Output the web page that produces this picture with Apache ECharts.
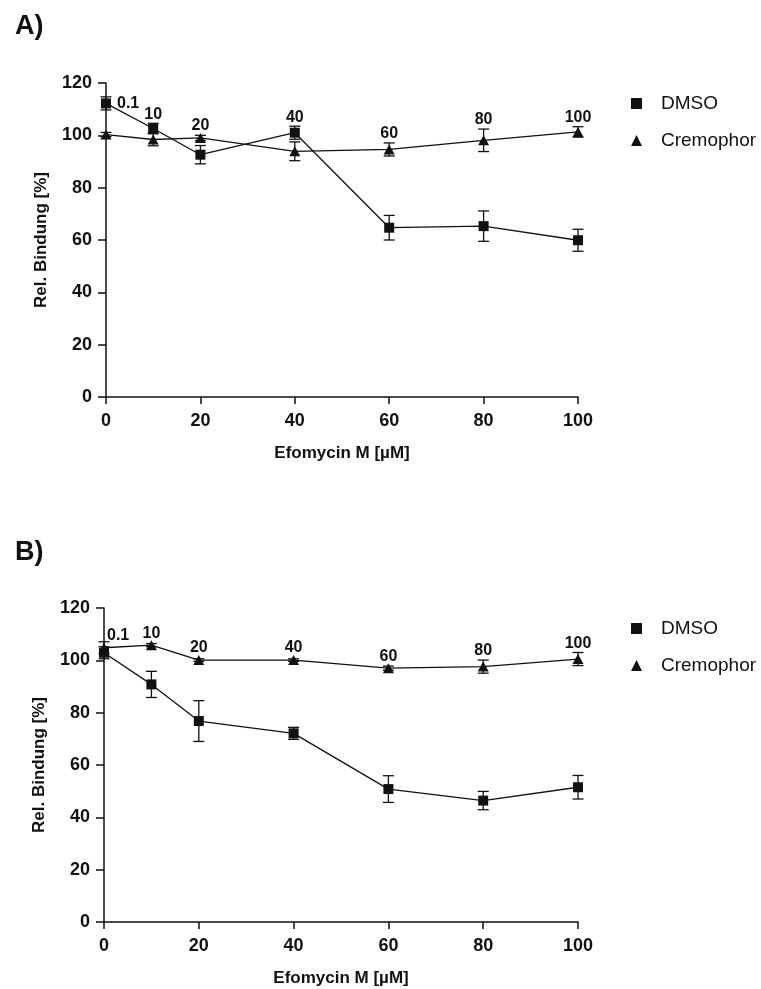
<!DOCTYPE html>
<html>
<head>
<meta charset="utf-8">
<script src="https://cdn.jsdelivr.net/npm/echarts@6/dist/echarts.min.js"></script>
<style>
  html, body { margin: 0; padding: 0; background: #fff; }
  #chart { width: 761px; height: 989px; }
</style>
</head>
<body>
<div id="chart"></div>
<script>
// Efomycin M concentrations (µM) and the point labels written above them
const xValues = [0, 10, 20, 40, 60, 80, 100];
const concLabels = ['0.1', '10', '20', '40', '60', '80', '100'];
const seriesNames = ['DMSO', 'Cremophor'];

// Panel A: relative binding [%] with error (±)
const dmsoA = [112.2, 102.6, 92.6, 101.0, 64.7, 65.3, 59.9];
const dmsoAErr = [2.5, 2.0, 3.5, 2.5, 4.7, 5.8, 4.2];
const cremA = [100.3, 98.4, 99.0, 93.9, 94.6, 98.1, 101.3];
const cremAErr = [0.8, 2.4, 1.0, 3.6, 2.5, 4.3, 2.0];

// Panel B: relative binding [%] with error (±)
const dmsoB = [102.9, 90.8, 76.8, 72.1, 50.8, 46.4, 51.5];
const dmsoBErr = [2.3, 5.0, 7.8, 2.3, 5.1, 3.5, 4.5];
const cremB = [104.8, 105.8, 100.1, 100.1, 97.0, 97.6, 100.5];
const cremBErr = [2.3, 0.6, 0.5, 0.5, 0.8, 2.5, 2.5];

// Axis ticks
const yMin = 0, yMax = 120, yStep = 20;
const xMin = 0, xMax = 100, xStep = 20;

const FONT = '"Liberation Sans", Arial, Helvetica, sans-serif';
const INK = '#111';

const panels = [
  { title: 'A)', dmso: dmsoA, dmsoErr: dmsoAErr, crem: cremA, cremErr: cremAErr,
    grid: { left: 106, top: 83, width: 472, height: 314 }, titleTop: 8, legendTop: 89,
    firstLabel: 'right' },
  { title: 'B)', dmso: dmsoB, dmsoErr: dmsoBErr, crem: cremB, cremErr: cremBErr,
    grid: { left: 104, top: 608, width: 474, height: 314 }, titleTop: 534, legendTop: 614,
    firstLabel: 'above' }
];

function errorBarSeries(gi, key, vals, errs) {
  return {
    type: 'custom',
    name: key + ' error',
    xAxisIndex: gi, yAxisIndex: gi,
    z: 2,
    silent: true,
    data: xValues.map((x, i) => [x, vals[i], errs[i]]),
    renderItem: function (params, api) {
      const x = api.value(0), v = api.value(1), e = api.value(2);
      const hi = api.coord([x, v + e]);
      const lo = api.coord([x, v - e]);
      const cap = 5.5;
      const style = { stroke: INK, lineWidth: 1.3, fill: null };
      return {
        type: 'group',
        children: [
          { type: 'line', shape: { x1: hi[0], y1: hi[1], x2: lo[0], y2: lo[1] }, style: style },
          { type: 'line', shape: { x1: hi[0] - cap, y1: hi[1], x2: hi[0] + cap, y2: hi[1] }, style: style },
          { type: 'line', shape: { x1: lo[0] - cap, y1: lo[1], x2: lo[0] + cap, y2: lo[1] }, style: style }
        ]
      };
    }
  };
}

function labelSeries(gi, p) {
  // each concentration label sits above the higher of the two points
  const data = xValues.map((x, i) => {
    const a = [p.dmso[i], p.dmsoErr[i]];
    const b = [p.crem[i], p.cremErr[i]];
    const top = (a[0] + a[1] >= b[0] + b[1]) ? a : b;
    return [x, top[0], top[1], i];
  });
  return {
    type: 'custom',
    name: 'concentration labels',
    xAxisIndex: gi, yAxisIndex: gi,
    z: 5,
    silent: true,
    data: data,
    renderItem: function (params, api) {
      const x = api.value(0), v = api.value(1), e = api.value(2), i = api.value(3);
      const pt = api.coord([x, v]);
      const et = api.coord([x, v + e]);
      let tx = pt[0], ty = Math.min(pt[1] - 12, et[1] - 9), align = 'center';
      if (i === 0) {
        if (p.firstLabel === 'right') { tx = pt[0] + 11; ty = pt[1]; align = 'left'; }
        else { tx = pt[0] + 3; ty += 3; align = 'left'; }
      }
      return {
        type: 'text',
        style: {
          x: tx, y: ty, text: concLabels[i],
          textAlign: align, textVerticalAlign: 'middle',
          font: 'bold 16px ' + FONT, fill: INK
        }
      };
    }
  };
}

const option = {
  backgroundColor: '#fff',
  animation: false,
  color: [INK],
  title: panels.map(p => ({
    text: p.title, left: 10, top: p.titleTop,
    textStyle: { fontFamily: FONT, fontWeight: 'bold', fontSize: 27, color: INK }
  })),
  legend: panels.map(p => ({
    orient: 'vertical',
    left: 626, top: p.legendTop,
    itemWidth: 11, itemHeight: 11, itemGap: 18,
    selectedMode: false,
    itemStyle: { color: INK },
    textStyle: { fontFamily: FONT, fontSize: 19, color: INK, padding: [0, 0, 0, 14] },
    data: [
      { name: seriesNames[0], icon: 'rect' },
      { name: seriesNames[1], icon: 'triangle' }
    ]
  })),
  grid: panels.map(p => Object.assign({ containLabel: false }, p.grid)),
  xAxis: panels.map((p, gi) => ({
    type: 'value', gridIndex: gi,
    min: xMin, max: xMax, interval: xStep,
    name: 'Efomycin M [µM]', nameLocation: 'middle', nameGap: 48,
    nameTextStyle: { fontFamily: FONT, fontWeight: 'bold', fontSize: 17, color: INK },
    axisLine: { lineStyle: { color: INK, width: 1.5 } },
    axisTick: { show: true, length: 7, lineStyle: { color: INK, width: 1.5 } },
    axisLabel: { margin: 15, fontFamily: FONT, fontWeight: 'bold', fontSize: 18, color: INK },
    splitLine: { show: false }
  })),
  yAxis: panels.map((p, gi) => ({
    type: 'value', gridIndex: gi,
    min: yMin, max: yMax, interval: yStep,
    name: 'Rel. Bindung [%]', nameLocation: 'middle', nameGap: 56, nameRotate: 90,
    nameTextStyle: { fontFamily: FONT, fontWeight: 'bold', fontSize: 17, color: INK },
    axisLine: { show: true, lineStyle: { color: INK, width: 1.5 } },
    axisTick: { show: true, length: 8, lineStyle: { color: INK, width: 1.5 } },
    axisLabel: { margin: 14, fontFamily: FONT, fontWeight: 'bold', fontSize: 18, color: INK },
    splitLine: { show: false }
  })),
  series: []
};

panels.forEach((p, gi) => {
  option.series.push(errorBarSeries(gi, seriesNames[0], p.dmso, p.dmsoErr));
  option.series.push(errorBarSeries(gi, seriesNames[1], p.crem, p.cremErr));
  option.series.push({
    type: 'line', name: seriesNames[0], xAxisIndex: gi, yAxisIndex: gi, z: 3,
    data: xValues.map((x, i) => [x, p.dmso[i]]),
    symbol: 'rect', symbolSize: 10,
    itemStyle: { color: INK },
    lineStyle: { color: INK, width: 1.3 }
  });
  option.series.push({
    type: 'line', name: seriesNames[1], xAxisIndex: gi, yAxisIndex: gi, z: 3,
    data: xValues.map((x, i) => [x, p.crem[i]]),
    symbol: 'triangle', symbolSize: [11, 10],
    itemStyle: { color: INK },
    lineStyle: { color: INK, width: 1.3 }
  });
  option.series.push(labelSeries(gi, p));
});

const chart = echarts.init(document.getElementById('chart'), null, { renderer: 'canvas' });
chart.setOption(option);
</script>
</body>
</html>
